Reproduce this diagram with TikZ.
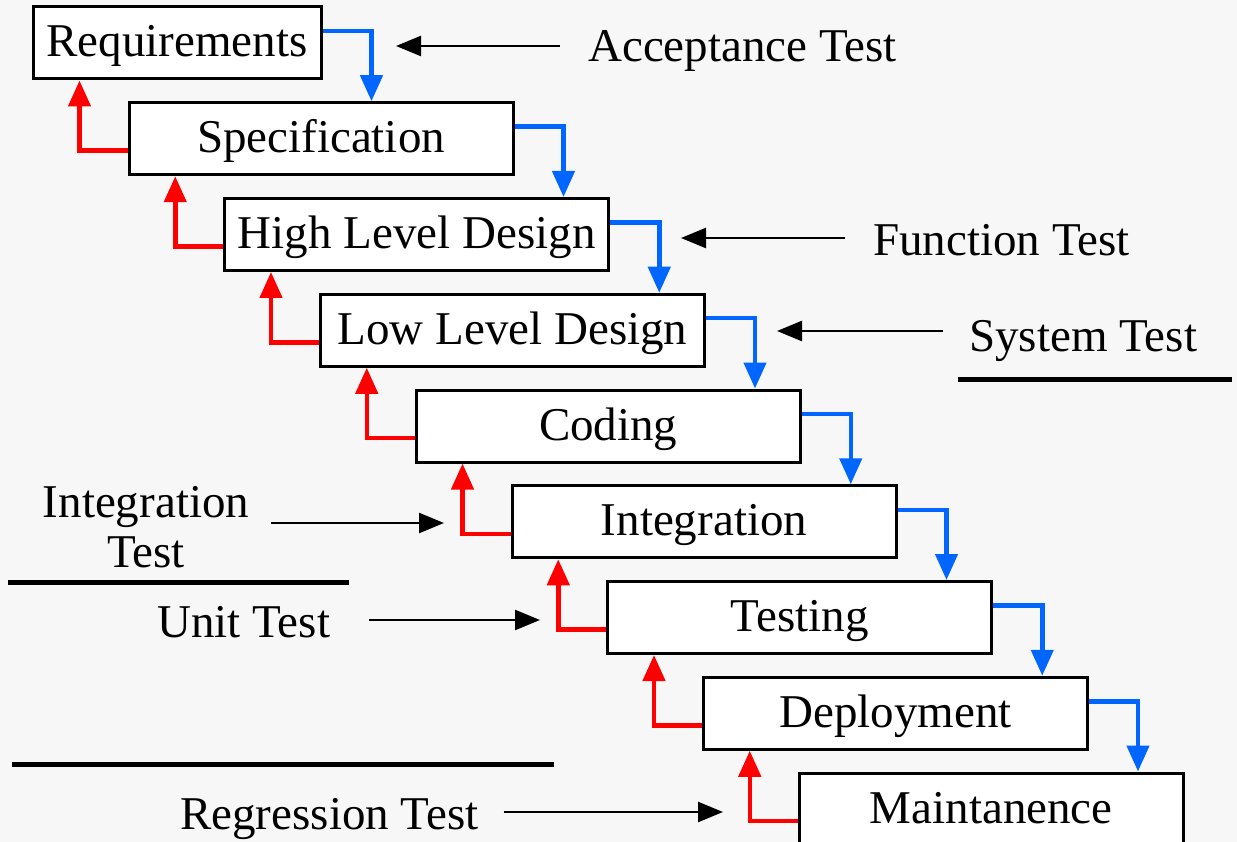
\documentclass[tikz,border=0pt]{standalone}
\usepackage{fontspec}
\setmainfont{Liberation Serif}
\usetikzlibrary{arrows.meta}
\definecolor{pagebg}{HTML}{F7F7F7}
\definecolor{flowblue}{HTML}{0066FF}
\definecolor{backred}{HTML}{FF0000}
\begin{document}
\begin{tikzpicture}[x=1pt,y=-1pt,
  phase/.style={draw=black, line width=3pt, fill=white, minimum width=384pt,
    minimum height=72pt, inner sep=0pt, font=\fontsize{47}{56}\selectfont,
    text height=31pt, text depth=3pt},
  fwd/.style={draw=flowblue, line width=4.5pt, -{Triangle[length=26pt,width=22pt]}},
  back/.style={draw=backred, line width=4.5pt, -{Triangle[length=26pt,width=22pt]}},
  testlabel/.style={font=\fontsize{47}{50}\selectfont, inner sep=0pt},
  testarrow/.style={draw=black, line width=2.5pt, -{Triangle[length=25pt,width=20pt]}},
  divider/.style={draw=black, line width=5pt}]

\useasboundingbox (0,0) rectangle (1237,842);
\fill[pagebg] (0,0) rectangle (1237,842);
\clip (0,0) rectangle (1237,842);

% waterfall phases
\node[phase, minimum width=288pt] (req) at (177,43) {Requirements};
\node[phase] (spec)  at (321,138.75)    {Specification};
\node[phase] (hld)   at (416.75,234.5)  {High Level Design};
\node[phase] (lld)   at (512.5,330.25)  {Low Level Design};
\node[phase] (code)  at (608.25,426)    {Coding};
\node[phase] (integ) at (704,521.75)    {Integration};
\node[phase] (test)  at (799.75,617.5)  {Testing};
\node[phase] (dep)   at (895.5,713.25)  {Deployment};
\node[phase] (maint) at (991.25,809)    {Maintanence};

% forward flow (blue) and feedback (red) between consecutive phases
\foreach \a/\b in {req/spec, spec/hld, hld/lld, lld/code, code/integ,
                   integ/test, test/dep, dep/maint} {
  \draw[fwd] ([yshift=12pt]\a.east) -- ++(49,0) coordinate (t) -- (t |- \b.north);
  \draw[back] ([yshift=-12pt]\b.west) -- ++(-48,0) coordinate (u) -- (u |- \a.south);
}

% test levels
\coordinate (accTip) at (396,46);
\coordinate (funTip) at (681,238);
\coordinate (sysTip) at (777,331);
\coordinate (intTip) at (444,523);
\coordinate (unitTip) at (540,620);
\coordinate (regTip) at (723,812);

\node[testlabel, anchor=base west] (acc) at (588,62) {Acceptance Test};
\node[testlabel, anchor=base west] (fun) at (873,256) {Function Test};
\node[testlabel, anchor=base west] (sys) at (969,352) {System Test};
\node[testlabel, anchor=north, align=center] (itest) at (146,486) {Integration\\Test};
\node[testlabel, anchor=base west] (unit) at (157,637) {Unit Test};
\node[testlabel, anchor=base west] (reg) at (180,829) {Regression Test};

\draw[testarrow] (acc.west |- accTip) ++(-28,0) -- (accTip);
\draw[testarrow] (fun.west |- funTip) ++(-28,0) -- (funTip);
\draw[testarrow] (sys.west |- sysTip) ++(-26,0) -- (sysTip);
\draw[testarrow] (itest.east |- intTip) ++(22,0) -- (intTip);
\draw[testarrow] (unit.east |- unitTip) ++(39,0) -- (unitTip);
\draw[testarrow] (reg.east |- regTip) ++(25,0) -- (regTip);

% separators
\draw[divider] (958,379) -- (1232,379);
\draw[divider] (8,582) -- (349,582);
\draw[divider] (12,764) -- (554,764);
\end{tikzpicture}
\end{document}
